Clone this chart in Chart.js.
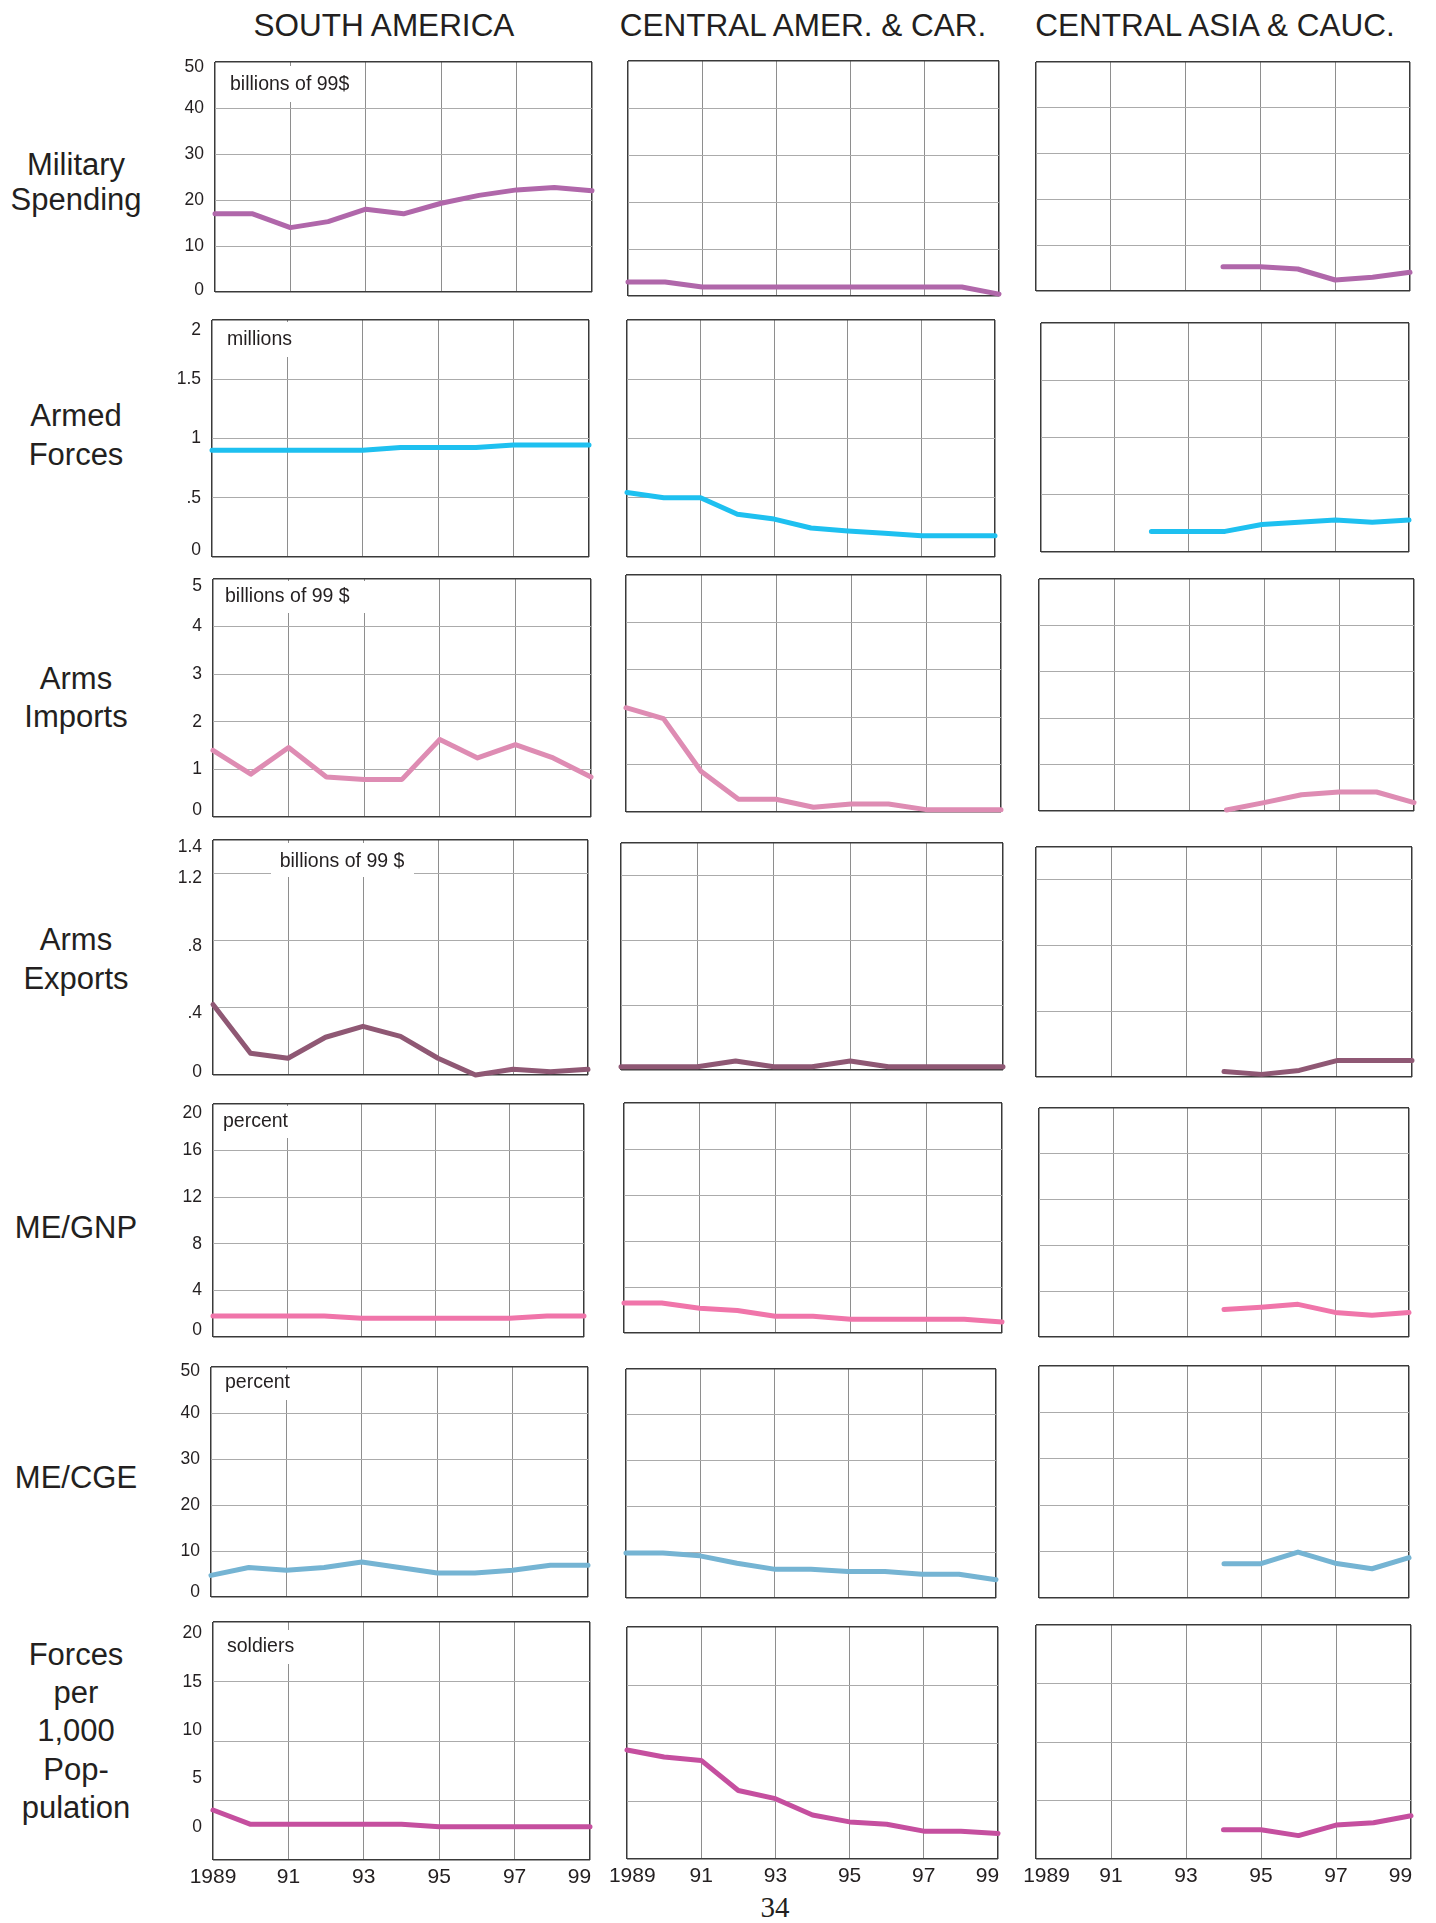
<!DOCTYPE html>
<html>
<head>
<meta charset="utf-8">
<script src="https://cdn.jsdelivr.net/npm/chart.js@4.4.1/dist/chart.umd.min.js"></script>
<style>
  body { margin: 0; background: #fff; width: 1436px; height: 1923px; position: relative; overflow: hidden;
         font-family: "Liberation Sans", Arial, sans-serif; color: #231f20; }
  .title { position: absolute; font-size: 31.5px; white-space: nowrap; transform: translate(-50%, -50%); }
  .rowlab { position: absolute; font-size: 31px; white-space: nowrap; transform: translate(-50%, -50%); }
  .pageno { position: absolute; font-family: "Liberation Serif", "Times New Roman", serif; font-size: 29px;
            transform: translate(-50%, -50%); }
  canvas { position: absolute; }
</style>
</head>
<body>
<script>
// ============================================
// DATA
// ============================================

const years = [1989, 1990, 1991, 1992, 1993, 1994, 1995, 1996, 1997, 1998, 1999];
const yearTickLabels = ['1989', '91', '93', '95', '97', '99'];

const regionNames = ['SOUTH AMERICA', 'CENTRAL AMER. & CAR.', 'CENTRAL ASIA & CAUC.'];
const rowTitles = [
    ['Military', 'Spending'],
    ['Armed', 'Forces'],
    ['Arms', 'Imports'],
    ['Arms', 'Exports'],
    ['ME/GNP'],
    ['ME/CGE'],
    ['Forces', 'per', '1,000', 'Pop-', 'pulation']
];
const unitLabels = ['billions of 99$', 'millions', 'billions of 99 $', 'billions of 99 $',
                    'percent', 'percent', 'soldiers'];

// y axis ticks for each row
const milTicks = [0, 10, 20, 30, 40, 50];
const armedTicks = [0, 0.5, 1, 1.5, 2];
const importTicks = [0, 1, 2, 3, 4, 5];
const exportTicks = [0, 0.4, 0.8, 1.2, 1.4];
const gnpTicks = [0, 4, 8, 12, 16, 20];
const cgeTicks = [0, 10, 20, 30, 40, 50];
const forcesTicks = [0, 5, 10, 15, 20];

// Military spending, billions of 1999 $
const milSA = [17, 17, 14, 15.3, 18, 17, 19.3, 21, 22.2, 22.7, 22];
const milCA = [3.0, 3.0, 1.9, 1.9, 1.9, 1.9, 1.9, 1.9, 1.9, 1.9, 0.4];
const milCAs = [null, null, null, null, null, 5.3, 5.3, 4.8, 2.4, 3.0, 4.1];

// Armed forces, millions
const armedSA = [0.9, 0.9, 0.9, 0.9, 0.9, 0.925, 0.925, 0.925, 0.945, 0.945, 0.945];
const armedCA = [0.545, 0.5, 0.5, 0.36, 0.32, 0.245, 0.22, 0.2, 0.18, 0.18, 0.18];
const armedCAs = [null, null, null, 0.18, 0.18, 0.18, 0.24, 0.26, 0.28, 0.26, 0.28];

// Arms imports, billions of 1999 $
const importsSA = [1.4, 0.9, 1.46, 0.84, 0.79, 0.79, 1.63, 1.24, 1.52, 1.24, 0.84];
const importsCA = [2.2, 1.97, 0.86, 0.27, 0.27, 0.1, 0.17, 0.17, 0.05, 0.05, 0.05];
const importsCAs = [null, null, null, null, null, 0.02, 0.18, 0.35, 0.41, 0.41, 0.18];

// Arms exports, billions of 1999 $
const exportsSA = [0.42, 0.13, 0.1, 0.225, 0.29, 0.23, 0.1, 0, 0.034, 0.02, 0.034];
const exportsCA = [0.02, 0.02, 0.02, 0.055, 0.02, 0.02, 0.055, 0.02, 0.02, 0.02, 0.02];
const exportsCAs = [null, null, null, null, null, 0.034, 0.016, 0.04, 0.1, 0.1, 0.1];

// ME/GNP, percent
const gnpSA = [1.8, 1.8, 1.8, 1.8, 1.6, 1.6, 1.6, 1.6, 1.6, 1.8, 1.8];
const gnpCA = [2.6, 2.6, 2.15, 1.95, 1.45, 1.45, 1.2, 1.2, 1.2, 1.2, 0.95];
const gnpCAs = [null, null, null, null, null, 2.4, 2.6, 2.85, 2.15, 1.9, 2.15];

// ME/CGE, percent
const cgeSA = [4.7, 6.4, 5.8, 6.4, 7.6, 6.4, 5.2, 5.2, 5.8, 6.9, 6.9];
const cgeCA = [9.8, 9.8, 9.2, 7.6, 6.3, 6.3, 5.8, 5.8, 5.2, 5.2, 4.0];
const cgeCAs = [null, null, null, null, null, 7.4, 7.4, 9.9, 7.5, 6.3, 8.7];

// Armed forces per 1,000 population
const forcesSA = [4.2, 3.0, 3.0, 3.0, 3.0, 3.0, 2.8, 2.8, 2.8, 2.8, 2.8];
const forcesCA = [9.4, 8.8, 8.5, 5.9, 5.2, 3.8, 3.2, 3.0, 2.4, 2.4, 2.2];
const forcesCAs = [null, null, null, null, null, 2.5, 2.5, 2.0, 2.9, 3.1, 3.7];

// ============================================
// STYLE AND LAYOUT
// ============================================

const rows = [
    { ticks: milTicks,    color: '#b067aa', series: [milSA, milCA, milCAs] },
    { ticks: armedTicks,  color: '#1ec0f0', series: [armedSA, armedCA, armedCAs] },
    { ticks: importTicks, color: '#de8cb3', series: [importsSA, importsCA, importsCAs] },
    { ticks: exportTicks, color: '#8f5874', series: [exportsSA, exportsCA, exportsCAs] },
    { ticks: gnpTicks,    color: '#f075aa', series: [gnpSA, gnpCA, gnpCAs] },
    { ticks: cgeTicks,    color: '#75b4d3', series: [cgeSA, cgeCA, cgeCAs] },
    { ticks: forcesTicks, color: '#c54f9f', series: [forcesSA, forcesCA, forcesCAs] }
];

// plot boxes on the page [left, top, right, bottom]
const panelBoxes = [
    [[215, 62, 592, 292], [628, 61, 999, 296], [1036, 62, 1410, 291]],
    [[212, 320, 589, 557], [627, 320, 995, 557], [1041, 323, 1409, 552]],
    [[213, 579, 591, 817], [626, 575, 1001, 812], [1039, 579, 1414, 811]],
    [[213, 840, 588, 1075], [621, 843, 1003, 1070], [1036, 847, 1412, 1077]],
    [[213, 1104, 584, 1337], [624, 1103, 1002, 1333], [1039, 1108, 1409, 1337]],
    [[211, 1367, 588, 1597], [626, 1369, 996, 1598], [1039, 1366, 1409, 1598]],
    [[213, 1622, 590, 1860], [627, 1627, 998, 1859], [1036, 1625, 1411, 1859]]
];

// unit label white boxes [left, top, right, bottom], text anchor x, y
const unitBoxes = [
    { box: [225, 66, 365, 102], x: 230, y: 85, align: 'left' },
    { box: [224, 322, 297, 357], x: 227, y: 340, align: 'left' },
    { box: [222, 581, 368, 613], x: 225, y: 597, align: 'left' },
    { box: [271, 843, 414, 877], x: 342, y: 862, align: 'center' },
    { box: [221, 1106, 297, 1138], x: 223, y: 1122, align: 'left' },
    { box: [222, 1369, 298, 1400], x: 225, y: 1383, align: 'left' },
    { box: [224, 1630, 302, 1664], x: 227, y: 1647, align: 'left' }
];

// the end tick labels of the original sit a little inside the frame:
// [shift of the bottom label up, shift of the top label down, shift of all labels down] in px
const labelNudge = [[2, 5, 0], [6.5, 10, 0], [6.5, 7.5, 0], [8, 2, 5], [6.5, 9, 0], [5, 4.5, 0]];

// spacing that nudges the end year labels the way the original sets them
const firstYearPad = ['', '\u2002', '\u2003'];
const lastYearPad = '\u2003';

const titleX = [384, 803, 1215];
const titleY = 25;
const rowTitleX = 76;
const rowTitleY = [[165, 200], [416, 455], [679, 717], [940, 979], [1228], [1478],
                   [1655, 1693, 1731, 1770, 1808]];

// the forces row labels sit on their own, slightly shifted scale
const forcesLabelMin = -3.4;
const forcesLabelMax = 21.17;

const FRAME = '#3a3a3a';
const VGRID = '#8e8e8e';
const HGRID = '#ababab';
const TEXT = '#231f20';
const FONT = '"Liberation Sans", Arial, sans-serif';
const TICK_SIZE = 17.5;

Chart.defaults.font.family = FONT;
Chart.defaults.color = TEXT;

// ============================================
// TEXT
// ============================================

function addDiv(cls, text, x, y) {
    const d = document.createElement('div');
    d.className = cls;
    d.textContent = text;
    d.style.left = x + 'px';
    d.style.top = y + 'px';
    document.body.appendChild(d);
}

regionNames.forEach((name, i) => addDiv('title', name, titleX[i], titleY));
rowTitles.forEach((lines, r) => {
    lines.forEach((line, k) => addDiv('rowlab', line, rowTitleX, rowTitleY[r][k]));
});
addDiv('pageno', '34', 775, 1907);

// ============================================
// PANELS
// ============================================

function tickText(v) {
    return String(v).replace(/^0\./, '.');
}

function makePanel(r, c) {
    const row = rows[r];
    const bottomRow = r === rows.length - 1;
    const [x0, y0, x1, y1] = panelBoxes[r][c];
    // margins are wide enough for the label padding chart.js reserves
    const L = c === 0 ? 70 : (bottomRow ? 50 : 30);
    const T = 40;
    const R = bottomRow ? 40 : 16;
    const B = bottomRow ? 46 : 40;
    const w = x1 - x0 + L + R;
    const h = y1 - y0 + T + B;
    const ox = x0 - L, oy = y0 - T;

    const canvas = document.createElement('canvas');
    canvas.width = w;
    canvas.height = h;
    canvas.style.left = ox + 'px';
    canvas.style.top = oy + 'px';
    canvas.style.width = w + 'px';
    canvas.style.height = h + 'px';
    document.body.appendChild(canvas);

    const lastX = years.length - 1;
    const lastY = row.ticks.length - 1;
    const forcesLabels = c === 0 && bottomRow;
    const showYLabels = c === 0 && !forcesLabels;
    const nudge = labelNudge[r] || [0, 0, 0];

    const scales = {
        x: {
            type: 'category',
            border: { display: false },
            grid: {
                drawTicks: false,
                color: ctx => (ctx.index === 0 || ctx.index === lastX) ? FRAME
                    : (ctx.index % 2 === 0 ? VGRID : 'rgba(0,0,0,0)'),
                lineWidth: ctx => (ctx.index === 0 || ctx.index === lastX) ? 1.5 : 1
            },
            ticks: {
                display: bottomRow,
                autoSkip: false,
                maxRotation: 0,
                padding: 5,
                font: { size: 21 },
                callback: (v, i) => {
                    if (i % 2 !== 0) return '';
                    const lab = yearTickLabels[i / 2];
                    if (i === 0) return firstYearPad[c] + lab;
                    if (i === lastX) return lab + lastYearPad;
                    return lab;
                }
            },
            afterFit: s => { s.height = B; }
        },
        y: {
            type: 'linear',
            position: 'left',
            min: row.ticks[0],
            max: row.ticks[lastY],
            afterBuildTicks: s => { s.ticks = row.ticks.map(v => ({ value: v })); },
            border: { display: false },
            grid: {
                drawTicks: false,
                color: ctx => (ctx.index === 0 || ctx.index === lastY) ? FRAME : HGRID,
                lineWidth: ctx => (ctx.index === 0 || ctx.index === lastY) ? 1.5 : 1
            },
            ticks: {
                display: showYLabels,
                padding: 11,
                labelOffset: nudge[2],
                // an empty second line moves the end labels inward by half a line height
                font: ctx => {
                    if (ctx.index === 0) return { size: TICK_SIZE, lineHeight: 2 * nudge[0] / TICK_SIZE };
                    if (ctx.index === lastY) return { size: TICK_SIZE, lineHeight: 2 * nudge[1] / TICK_SIZE };
                    return { size: TICK_SIZE };
                },
                callback: (v, i) => {
                    const t = tickText(v);
                    if (i === 0 && nudge[0] > 0) return [t, ''];
                    if (i === lastY && nudge[1] > 0) return ['', t];
                    return t;
                }
            },
            afterFit: s => { s.width = forcesLabels ? 0 : L; }
        }
    };

    if (forcesLabels) {
        scales.yLab = {
            type: 'linear',
            position: 'left',
            min: forcesLabelMin,
            max: forcesLabelMax,
            afterBuildTicks: s => { s.ticks = forcesTicks.map(v => ({ value: v })); },
            border: { display: false },
            grid: { display: false, drawTicks: false },
            ticks: { padding: 11, font: { size: TICK_SIZE }, callback: v => tickText(v) },
            afterFit: s => { s.width = L; }
        };
    }

    const plugins = [];
    if (c === 0) {
        const u = unitBoxes[r];
        plugins.push({
            id: 'unitLabel',
            beforeDatasetsDraw(chart) {
                const ctx = chart.ctx;
                ctx.save();
                ctx.fillStyle = '#fff';
                ctx.fillRect(u.box[0] - ox, u.box[1] - oy, u.box[2] - u.box[0], u.box[3] - u.box[1]);
                ctx.fillStyle = TEXT;
                ctx.font = '19.5px ' + FONT;
                ctx.textAlign = u.align;
                ctx.textBaseline = 'middle';
                ctx.fillText(unitLabels[r], u.x - ox, u.y - oy);
                ctx.restore();
            }
        });
    }

    new Chart(canvas.getContext('2d'), {
        type: 'line',
        data: {
            labels: years,
            datasets: [{
                data: row.series[c],
                borderColor: row.color,
                borderWidth: 5,
                pointRadius: 0,
                tension: 0,
                spanGaps: false,
                clip: 6,
                borderCapStyle: 'round',
                borderJoinStyle: 'round'
            }]
        },
        options: {
            responsive: false,
            animation: false,
            events: [],
            layout: { padding: { top: T, right: R, left: 0, bottom: 0 } },
            plugins: { legend: { display: false }, tooltip: { enabled: false } },
            scales
        },
        plugins
    });
}

for (let r = 0; r < rows.length; r++) {
    for (let c = 0; c < 3; c++) {
        makePanel(r, c);
    }
}
</script>
</body>
</html>
